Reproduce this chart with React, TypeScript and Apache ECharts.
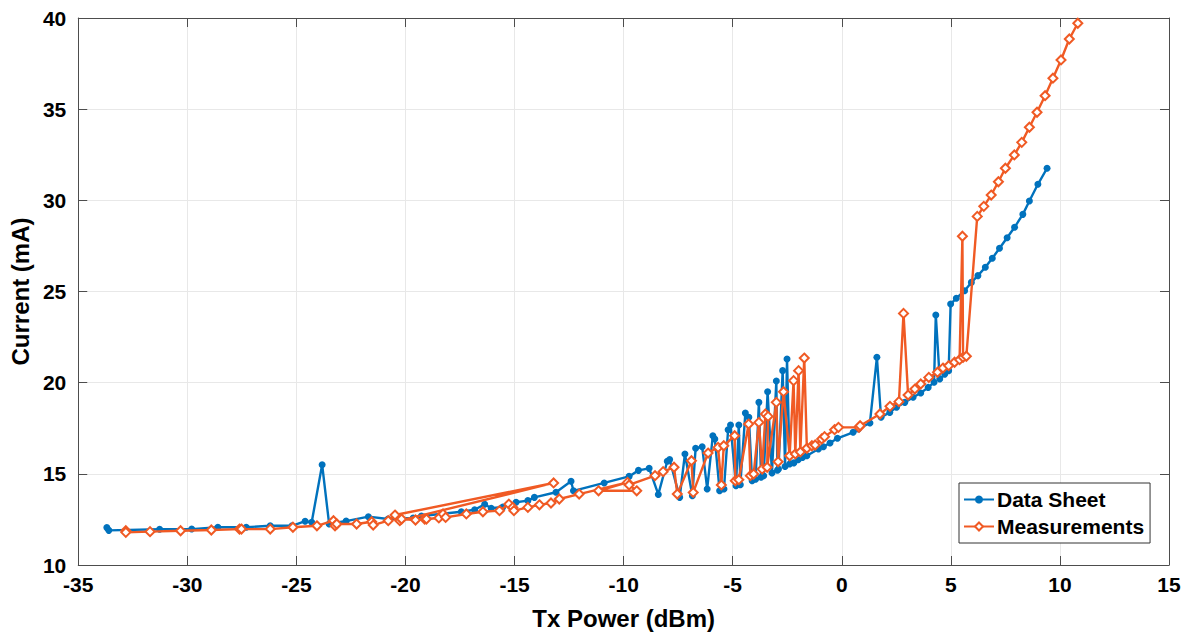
import React, { useEffect, useRef } from "react";
import * as echarts from "echarts";

const xRange = [-35, 15];
const yRange = [10, 40];
const xStep = 5;
const yStep = 5;

const seriesNames = ["Data Sheet", "Measurements"];

// Data Sheet: [Tx power dBm, current mA] in plotted order
const dataSheetPoints: [number, number][] = [
  [-33.69, 12.05], [-33.6, 11.9], [-31.27, 11.96], [-29.8, 11.97], [-28.6, 12.07],
  [-27.3, 12.07], [-26.2, 12.15], [-25.2, 12.15], [-24.6, 12.4], [-24.3, 12.34],
  [-23.82, 15.5], [-23.5, 12.25], [-22.72, 12.41], [-21.7, 12.65], [-20.8, 12.52],
  [-19.65, 12.58], [-19.27, 12.69], [-17.44, 12.92], [-16.83, 13.03], [-16.37, 13.33],
  [-16.07, 13.11], [-15.54, 13.18], [-14.93, 13.44], [-14.39, 13.53], [-14.09, 13.71],
  [-13.1, 13.99], [-12.41, 14.59], [-12.3, 14.07], [-10.89, 14.5], [-9.75, 14.86],
  [-9.32, 15.19], [-8.83, 15.3], [-8.41, 13.87], [-8.0, 15.69], [-7.89, 15.78],
  [-7.43, 13.71], [-7.19, 16.09], [-6.85, 13.8], [-6.7, 16.4], [-6.4, 16.49],
  [-6.17, 14.17], [-5.91, 17.09], [-5.82, 16.91], [-5.6, 14.07], [-5.4, 14.17],
  [-5.21, 17.42], [-5.1, 17.68], [-4.85, 14.35], [-4.72, 17.68], [-4.65, 14.4],
  [-4.42, 18.33], [-4.26, 18.1], [-4.11, 14.62], [-3.95, 14.7], [-3.8, 18.92],
  [-3.7, 14.81], [-3.58, 14.9], [-3.4, 19.5], [-3.2, 15.05], [-3.0, 20.09],
  [-2.95, 15.2], [-2.9, 15.26], [-2.71, 20.66], [-2.6, 15.4], [-2.51, 21.3],
  [-2.39, 15.54], [-2.2, 15.6], [-2.0, 15.77], [-1.8, 15.9], [-1.6, 15.99],
  [-1.07, 16.36], [-0.84, 16.49], [-0.54, 16.69], [-0.2, 16.95], [0.52, 17.28],
  [0.76, 17.46], [1.29, 17.79], [1.61, 21.39], [1.8, 18.1], [2.2, 18.37],
  [2.51, 18.65], [2.89, 18.92], [3.27, 19.2], [3.62, 19.43], [3.96, 19.74],
  [4.23, 20.02], [4.31, 23.71], [4.49, 20.2], [4.72, 20.47], [4.9, 20.66],
  [4.99, 24.31], [5.25, 24.63], [5.63, 25.04], [5.94, 25.5], [6.24, 25.87],
  [6.58, 26.33], [6.9, 26.82], [7.23, 27.37], [7.58, 27.95], [7.92, 28.52],
  [8.3, 29.23], [8.6, 29.96], [8.99, 30.88], [9.41, 31.76],
];

// Measurements: [Tx power dBm, current mA] in measured order
const measurementPoints: [number, number][] = [
  [-32.82, 11.88], [-32.82, 11.79], [-31.71, 11.83], [-30.31, 11.88], [-28.9, 11.92],
  [-27.61, 11.97], [-27.52, 11.97], [-26.2, 11.97], [-25.16, 12.07], [-24.06, 12.15],
  [-23.3, 12.43], [-23.23, 12.15], [-23.15, 12.25], [-22.24, 12.25], [-21.55, 12.37],
  [-21.48, 12.19], [-20.79, 12.43], [-20.48, 12.74], [-13.21, 14.5], [-20.26, 12.43],
  [-20.18, 12.52], [-19.54, 12.47], [-19.12, 12.52], [-19.04, 12.52], [-18.47, 12.58],
  [-18.28, 12.8], [-18.16, 12.61], [-17.21, 12.8], [-16.45, 12.92], [-15.69, 12.98],
  [-15.26, 13.34], [-15.08, 13.16], [-15.03, 12.98], [-14.39, 13.16], [-13.86, 13.3],
  [-13.33, 13.4], [-12.95, 13.62], [-12.04, 13.89], [-9.82, 14.53], [-11.15, 14.07],
  [-9.4, 14.07], [-9.75, 14.39], [-8.56, 14.9], [-8.19, 15.12], [-7.69, 15.36],
  [-7.54, 13.89], [-6.89, 15.72], [-6.81, 13.98], [-6.13, 16.14], [-5.67, 16.45],
  [-5.52, 14.39], [-5.41, 16.54], [-4.91, 17.09], [-4.88, 14.62], [-4.72, 14.68],
  [-4.27, 17.73], [-4.19, 14.9], [-4.04, 14.99], [-3.8, 17.82], [-3.65, 15.26],
  [-3.5, 18.28], [-3.38, 18.15], [-3.42, 15.36], [-3.0, 18.92], [-2.92, 15.66],
  [-2.67, 19.5], [-2.39, 15.99], [-2.21, 20.11], [-2.13, 16.09], [-1.98, 20.66],
  [-1.9, 16.2], [-1.72, 21.35], [-1.6, 16.4], [-1.37, 16.54], [-1.22, 16.58],
  [-0.92, 16.91], [-0.79, 17.04], [-0.33, 17.42], [-0.15, 17.55], [0.79, 17.55],
  [0.84, 17.64], [1.75, 18.28], [2.21, 18.7], [2.62, 18.96], [2.83, 23.8],
  [3.04, 19.32], [3.35, 19.65], [3.62, 19.93], [3.99, 20.29], [4.39, 20.57],
  [4.64, 20.8], [4.9, 20.93], [5.17, 21.12], [5.4, 21.26], [5.53, 28.03],
  [5.56, 21.39], [5.71, 21.45], [6.21, 29.12], [6.51, 29.67], [6.85, 30.29],
  [7.18, 31.02], [7.5, 31.76], [7.91, 32.49], [8.25, 33.18], [8.6, 34.01],
  [8.95, 34.83], [9.32, 35.74], [9.68, 36.7], [10.05, 37.7], [10.43, 38.85],
  [10.82, 39.71],
];

const FONT = "'Liberation Sans', Arial, Helvetica, sans-serif";
const BLUE = "#0072BD";
const ORANGE = "#F05A24";
const AXIS = "#4d4d4d";

export default function App() {
  const ref = useRef<HTMLDivElement>(null);
  useEffect(() => {
    const chart = echarts.init(ref.current!, undefined, { renderer: "svg" });
    const labelStyle = {
      fontFamily: FONT,
      fontWeight: "bold" as const,
      fontSize: 21,
      color: "#000",
    };
    const boxAxis = {
      axisLine: { show: true, onZero: false, lineStyle: { color: AXIS, width: 1 } },
      axisTick: { show: true, inside: true, length: 9, lineStyle: { color: AXIS } },
    };
    chart.setOption({
      animation: false,
      backgroundColor: "#fff",
      grid: { left: 74, right: 19, top: 18, bottom: 69, containLabel: false },
      xAxis: [
        {
          type: "value",
          min: xRange[0],
          max: xRange[1],
          interval: xStep,
          position: "bottom",
          ...boxAxis,
          axisLabel: { ...labelStyle, margin: 9 },
          splitLine: { show: true, lineStyle: { color: "#e8e8e8", width: 1 } },
          name: "Tx Power (dBm)",
          nameLocation: "middle",
          nameGap: 41,
          nameTextStyle: { ...labelStyle, fontSize: 24 },
        },
        {
          type: "value",
          min: xRange[0],
          max: xRange[1],
          interval: xStep,
          position: "top",
          ...boxAxis,
          axisLabel: { show: false },
          splitLine: { show: false },
        },
      ],
      yAxis: [
        {
          type: "value",
          min: yRange[0],
          max: yRange[1],
          interval: yStep,
          position: "left",
          ...boxAxis,
          axisLabel: { ...labelStyle, margin: 12 },
          splitLine: { show: true, lineStyle: { color: "#e8e8e8", width: 1 } },
          name: "Current (mA)",
          nameLocation: "middle",
          nameGap: 40,
          nameTextStyle: { ...labelStyle, fontSize: 24 },
        },
        {
          type: "value",
          min: yRange[0],
          max: yRange[1],
          interval: yStep,
          position: "right",
          ...boxAxis,
          axisLabel: { show: false },
          splitLine: { show: false },
        },
      ],
      legend: {
        data: seriesNames,
        orient: "vertical",
        left: 959,
        top: 483,
        backgroundColor: "#fff",
        borderColor: "#333",
        borderWidth: 1,
        borderRadius: 0,
        padding: [6, 6, 6, 4],
        itemGap: 6,
        itemWidth: 30,
        itemHeight: 10,
        textStyle: { ...labelStyle, fontSize: 21, padding: [0, 0, 0, -2] },
      },
      series: [
        {
          name: seriesNames[0],
          type: "line",
          data: dataSheetPoints,
          symbol: "circle",
          symbolSize: 7,
          showSymbol: true,
          lineStyle: { color: BLUE, width: 2.4 },
          itemStyle: { color: BLUE },
          z: 2,
        },
        {
          name: seriesNames[1],
          type: "line",
          data: measurementPoints,
          symbol: "emptyDiamond",
          symbolSize: 9,
          showSymbol: true,
          lineStyle: { color: ORANGE, width: 2.4 },
          itemStyle: { color: ORANGE, borderWidth: 1.6 },
          z: 3,
        },
      ],
    });
    return () => chart.dispose();
  }, []);
  return (
    <div
      ref={ref}
      style={{ position: "fixed", left: 0, top: 0, width: 1188, height: 635, background: "#fff" }}
    />
  );
}
